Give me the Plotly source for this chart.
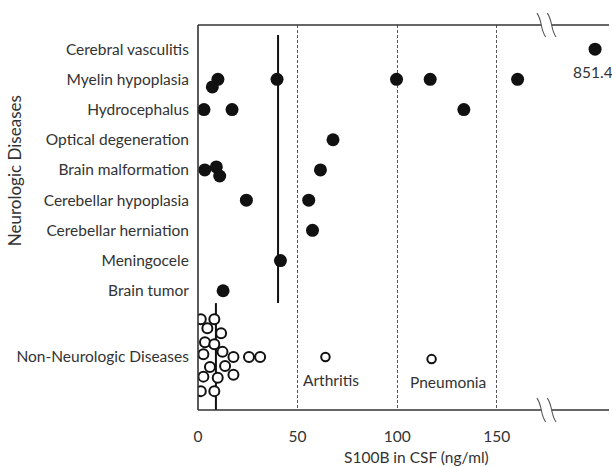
import plotly.graph_objects as go

# ---------------- data ----------------
categories = ["Cerebral vasculitis", "Myelin hypoplasia", "Hydrocephalus",
              "Optical degeneration", "Brain malformation", "Cerebellar hypoplasia",
              "Cerebellar herniation", "Meningocele", "Brain tumor"]
non_neuro_label = "Non-Neurologic Diseases"

# neurologic points: category, S100B value, small vertical offset (overlap avoidance)
neuro_cat = ["Cerebral vasculitis",
             "Myelin hypoplasia", "Myelin hypoplasia", "Myelin hypoplasia",
             "Myelin hypoplasia", "Myelin hypoplasia", "Myelin hypoplasia",
             "Hydrocephalus", "Hydrocephalus", "Hydrocephalus",
             "Optical degeneration",
             "Brain malformation", "Brain malformation", "Brain malformation", "Brain malformation",
             "Cerebellar hypoplasia", "Cerebellar hypoplasia",
             "Cerebellar herniation",
             "Meningocele",
             "Brain tumor"]
neuro_val = [851.4,
             10.0, 7.2, 39.7, 99.7, 116.6, 160.5,
             3.0, 17.1, 133.5,
             67.8,
             3.4, 9.2, 10.9, 61.5,
             24.3, 55.6,
             57.5,
             41.4,
             12.6]
neuro_jit = [0,
             0, -0.25, 0, 0, 0, 0,
             0, 0, 0,
             0,
             0, 0.1, -0.2, 0,
             0, 0,
             0,
             0,
             0]

# non-neurologic points (beeswarm)
non_val = [1.4, 8.2, 4.7, 11.6, 3.5, 8.2, 2.7, 12.3, 17.8, 25.6, 31.2,
           6.0, 13.6, 17.8, 2.7, 9.9, 1.4, 8.2]
non_jit = [1.25, 1.25, 0.95, 0.79, 0.49, 0.42, 0.09, 0.17, 0, 0, 0,
           -0.33, -0.30, -0.59, -0.65, -0.69, -1.13, -1.13]
named_labels = ["Arthritis", "Pneumonia"]
named_val = [64.0, 117.3]
named_jit = [0, -0.07]

neuro_median = 40.2
non_median = 9.0

x_ticks = [0, 50, 100, 150]
max_label = "851.4"

# ---------------- axis helpers (broken axis) ----------------
BREAK = 175.0
K_ABOVE = 0.03607  # compression of the scale beyond the break


def disp(v):
    return v if v <= BREAK else BREAK + (v - BREAK) * K_ABOVE


ypos = {c: 9 - i for i, c in enumerate(categories)}
NON_Y = -1.195
Y_RANGE = [-2.95, 9.8]
X_RANGE = [0, 206.4]

FONT = "Lato"
TXT = "#333333"
FS = 15.5

fig = go.Figure()

# median lines
fig.add_trace(go.Scatter(x=[neuro_median, neuro_median], y=[9.47, 0.59], mode="lines",
                         line=dict(color="#111", width=2), hoverinfo="skip", showlegend=False))
fig.add_trace(go.Scatter(x=[non_median, non_median], y=[0.59, Y_RANGE[0]], mode="lines",
                         line=dict(color="#111", width=2), hoverinfo="skip", showlegend=False))

# neurologic filled points
fig.add_trace(go.Scatter(
    x=[disp(v) for v in neuro_val],
    y=[ypos[c] + j for c, j in zip(neuro_cat, neuro_jit)],
    mode="markers", marker=dict(size=13, color="#111", line=dict(width=0)),
    showlegend=False))

# non-neurologic open points
fig.add_trace(go.Scatter(
    x=non_val, y=[NON_Y + j for j in non_jit], mode="markers",
    marker=dict(size=10, color="white", line=dict(color="#111", width=2)),
    showlegend=False))
fig.add_trace(go.Scatter(
    x=named_val, y=[NON_Y + j for j in named_jit], mode="markers",
    marker=dict(size=8.5, color="white", line=dict(color="#111", width=2)),
    showlegend=False))

annotations = []
for lab, v, j in zip(named_labels, named_val, named_jit):
    annotations.append(dict(x=v, y=NON_Y + j, xref="x", yref="y", text=lab, showarrow=False,
                            xanchor="left", yanchor="middle", xshift=-24, yshift=-23,
                            font=dict(family=FONT, size=FS, color=TXT)))
annotations.append(dict(x=disp(851.4), y=ypos["Cerebral vasculitis"], xref="x", yref="y",
                        text=max_label, showarrow=False, xanchor="center", yanchor="middle",
                        xshift=-2, yshift=-23, font=dict(family=FONT, size=FS, color=TXT)))
annotations.append(dict(x=-0.4477, y=0.623, xref="paper", yref="paper", text="Neurologic Diseases",
                        textangle=-90, showarrow=False, xanchor="center", yanchor="middle",
                        font=dict(family=FONT, size=17, color=TXT)))
annotations.append(dict(x=0.5316, y=-0.122, xref="paper", yref="paper", text="S100B in CSF (ng/ml)",
                        showarrow=False, xanchor="center", yanchor="middle",
                        font=dict(family=FONT, size=FS, color=TXT)))

# frame drawn as shapes with break gaps
LC = "#333333"
LW = 1.6
g = 2.6
shapes = [
    dict(type="line", xref="paper", yref="paper", x0=0, x1=0, y0=0, y1=1, line=dict(color=LC, width=LW)),
    dict(type="line", xref="x", yref="paper", x0=0, x1=BREAK - g, y0=0, y1=0, line=dict(color=LC, width=LW)),
    dict(type="line", xref="x", yref="paper", x0=BREAK + g, x1=X_RANGE[1], y0=0, y1=0, line=dict(color=LC, width=LW)),
    dict(type="line", xref="x", yref="paper", x0=0, x1=BREAK - g, y0=1, y1=1, line=dict(color=LC, width=LW)),
    dict(type="line", xref="x", yref="paper", x0=BREAK + g, x1=X_RANGE[1], y0=1, y1=1, line=dict(color=LC, width=LW)),
]
dy = 0.031
for yc in (0, 1):
    for cx in (BREAK - g, BREAK + g):
        path = (f"M {cx-2.2},{yc+dy} C {cx+0.6},{yc+dy*0.35} {cx-0.6},{yc-dy*0.35} {cx+2.2},{yc-dy}")
        shapes.append(dict(type="path", xref="x", yref="paper", path=path,
                           line=dict(color="#555", width=1.1), layer="above"))

fig.update_layout(
    width=612, height=467,
    margin=dict(l=198, r=3, t=25, b=57),
    paper_bgcolor="white", plot_bgcolor="white",
    showlegend=False,
    xaxis=dict(range=X_RANGE, tickvals=x_ticks, ticktext=[str(t) for t in x_ticks],
               showgrid=True, gridcolor="#555", gridwidth=1, griddash="3px,2px",
               zeroline=False, showline=False, ticks="outside", ticklen=12,
               tickcolor="rgba(0,0,0,0)", tickfont=dict(family=FONT, size=FS, color=TXT)),
    yaxis=dict(range=Y_RANGE, tickvals=[ypos[c] for c in categories] + [NON_Y],
               ticktext=categories + [non_neuro_label],
               showgrid=False, zeroline=False, showline=False, ticks="outside", ticklen=5,
               tickcolor="rgba(0,0,0,0)", tickfont=dict(family=FONT, size=FS, color=TXT)),
    annotations=annotations,
    shapes=shapes,
)

fig.write_html("out.html", config={"displayModeBar": False},
               post_script="document.body.style.margin='0';document.body.style.overflow='hidden';")
